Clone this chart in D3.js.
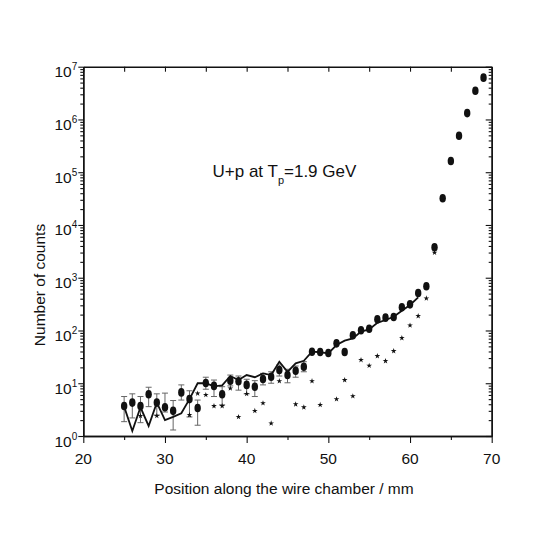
<!DOCTYPE html>
<html><head><meta charset="utf-8">
<script src="https://cdn.jsdelivr.net/npm/d3@7"></script>
<style>body{margin:0;background:#fff}svg{display:block}text{font-family:"Liberation Sans",Arial,sans-serif;fill:#111}</style>
</head><body><svg id="c" width="545" height="545"></svg>
<script>
// ---- data ----
const circleX = [25,26,27,28,29,30,31,32,33,34,35,36,37,38,39,40,41,42,43,44,45,46,47,48,49,50,51,52,53,54,55,56,57,58,59,60,61,62,63,64,65,66,67,68,69];
const circleY = [3.7,4.3,3.7,6.2,4.3,3.5,3.0,6.7,5.0,3.4,10.1,8.9,6.2,11.2,10.9,9.3,8.6,12.0,13.3,17.8,14.3,17.3,20.6,39.6,39.1,37.4,57,39,81,101,108,163,175,180,275,313,513,688,3770,32000,163000,492000,1320000,3500000,6200000];
const errX  = [25,26,27,28,29,30,31,32,33,34,35,36,37,38,39,40,41,42,43,44,45,46,47];
const errLo = [1.87,2.2,1.79,3.6,2.5,2.85,1.3,4.8,2.3,1.6,7.7,5.6,3.9,8.9,7.4,6.3,5.6,9.3,10.0,13.7,10.2,13.0,16.5];
const errHi = [5.6,6.3,5.6,8.4,6.3,6.5,4.7,9.3,7.2,4.8,13.0,11.5,8.6,14.3,13.7,11.9,11.2,15.4,16.5,22.2,18.4,21.2,25.6];
const lineX = [25,26,27,28,29,30,31,32,33,34,35,36,37,38,39,40,41,42,43,44,45,46,47,48,49,50,51,52,53,54,55,56,57,58,59,60,61];
const lineY = [3.6,1.24,3.5,1.55,4.3,2.0,2.3,2.7,5.0,10.0,10.0,8.7,9.1,13.7,11.5,14.3,13.0,15.4,14.3,25.6,16.5,23.9,26.7,39.6,38.7,36.9,53,64,71,95,105,140,158,182,237,304,425];
const starX = [27,29,33,34,35,36,37,38,39,40,41,42,43,44,46,47,48,49,51,52,53,54,55,56,57,58,59,60,61,62,63];
const starY = [2.4,2.4,2.5,6.4,6.0,3.7,3.7,8.0,2.3,6.3,3.0,4.2,1.74,11.0,4.0,3.5,11.0,3.9,5.0,11.5,5.7,27.6,21.5,32.8,26.4,40.8,72,125,188,407,3000];
const xTicks = [20,30,40,50,60,70];
const xMinorTicks = [25,35,45,55,65];
const yExponents = [0,1,2,3,4,5,6,7];
const xTitle = "Position along the wire chamber / mm";
const yTitle = "Number of counts";

// ---- drawing ----
const svg = d3.select("#c");
const L = 83.3, R = 491.7, T = 66.7, B = 436;
const x = d3.scaleLinear().domain([20,70]).range([L,R]);
const y = d3.scaleLog().domain([1,1e7]).range([B,T]);
const yMajor = yExponents.map(e => Math.pow(10,e));
const yMinor = y.ticks().filter(v => !yMajor.some(m => Math.abs(m - v) < 1e-9 * m));

function styleAxis(g){
  g.select(".domain").attr("stroke","#111").attr("stroke-width",1.4);
  g.selectAll(".tick line").attr("stroke","#111").attr("stroke-width",1.1);
  g.selectAll(".tick text").remove();
}
// bottom
svg.append("g").attr("transform",`translate(0,${B})`)
  .call(d3.axisBottom(x).tickValues(xTicks).tickSize(7).tickSizeOuter(0)).call(styleAxis);
svg.append("g").attr("transform",`translate(0,${B})`)
  .call(d3.axisBottom(x).tickValues(xMinorTicks).tickSize(4).tickSizeOuter(0)).call(styleAxis);
// top
svg.append("g").attr("transform",`translate(0,${T})`)
  .call(d3.axisTop(x).tickValues(xTicks.concat(xMinorTicks)).tickSize(-5).tickSizeOuter(0)).call(styleAxis);
// left
svg.append("g").attr("transform",`translate(${L},0)`)
  .call(d3.axisLeft(y).tickValues(yMajor).tickSize(5).tickSizeOuter(0)).call(styleAxis);
svg.append("g").attr("transform",`translate(${L},0)`)
  .call(d3.axisLeft(y).tickValues(yMinor).tickSize(3).tickSizeOuter(0)).call(styleAxis);
// right
svg.append("g").attr("transform",`translate(${R},0)`)
  .call(d3.axisRight(y).tickValues(yMajor).tickSize(-6).tickSizeOuter(0)).call(styleAxis);
svg.append("g").attr("transform",`translate(${R},0)`)
  .call(d3.axisRight(y).tickValues(yMinor).tickSize(-3).tickSizeOuter(0)).call(styleAxis);

// x tick labels
svg.append("g").selectAll("text").data(xTicks).join("text")
  .attr("x", d => x(d)).attr("y", B + 28).attr("text-anchor","middle")
  .attr("font-size",15.5).text(d => d);
// y tick labels
const yl = svg.append("g").selectAll("text").data(yExponents).join("text")
  .attr("x", L - 6).attr("y", d => y(Math.pow(10,d)) + 10.5).attr("text-anchor","end");
yl.append("tspan").attr("font-size",15.5).text("10");
yl.append("tspan").attr("font-size",10).attr("dy",-7).text(d => d);

// titles
svg.append("text").attr("x",284).attr("y",494).attr("text-anchor","middle")
  .attr("font-size",15.5).text(xTitle);
svg.append("text").attr("transform",`translate(45,285) rotate(-90)`)
  .attr("text-anchor","middle").attr("font-size",15.5).text(yTitle);

// annotation
const ann = svg.append("text").attr("x",212.5).attr("y",177).attr("font-size",17);
ann.append("tspan").text("U+p at T");
ann.append("tspan").attr("font-size",11).attr("dy",7).text("p");
ann.append("tspan").attr("dy",-7).text("=1.9 GeV");

// error bars
const eb = svg.append("g").attr("stroke","#666").attr("stroke-width",1);
errX.forEach((xv,i) => {
  const cx = x(xv);
  eb.append("line").attr("x1",cx).attr("x2",cx).attr("y1",y(errLo[i])).attr("y2",y(errHi[i]));
  eb.append("line").attr("x1",cx-3).attr("x2",cx+3).attr("y1",y(errLo[i])).attr("y2",y(errLo[i]));
  eb.append("line").attr("x1",cx-3).attr("x2",cx+3).attr("y1",y(errHi[i])).attr("y2",y(errHi[i]));
});

// solid line
svg.append("path").datum(lineX.map((d,i)=>[d,lineY[i]]))
  .attr("fill","none").attr("stroke","#111").attr("stroke-width",1.8).attr("stroke-linejoin","miter")
  .attr("d", d3.line().x(d=>x(d[0])).y(d=>y(d[1])));

// stars
svg.append("g").selectAll("path").data(starX.map((d,i)=>[d,starY[i]])).join("path")
  .attr("transform", d => `translate(${x(d[0])},${y(d[1])})`)
  .attr("d", d3.symbol(d3.symbolStar, 10)()).attr("fill","#111");

// circles
svg.append("g").selectAll("ellipse").data(circleX.map((d,i)=>[d,circleY[i]])).join("ellipse")
  .attr("cx", d => x(d[0])).attr("cy", d => y(d[1])).attr("rx",3.2).attr("ry",4.3).attr("fill","#111");
</script></body></html>
